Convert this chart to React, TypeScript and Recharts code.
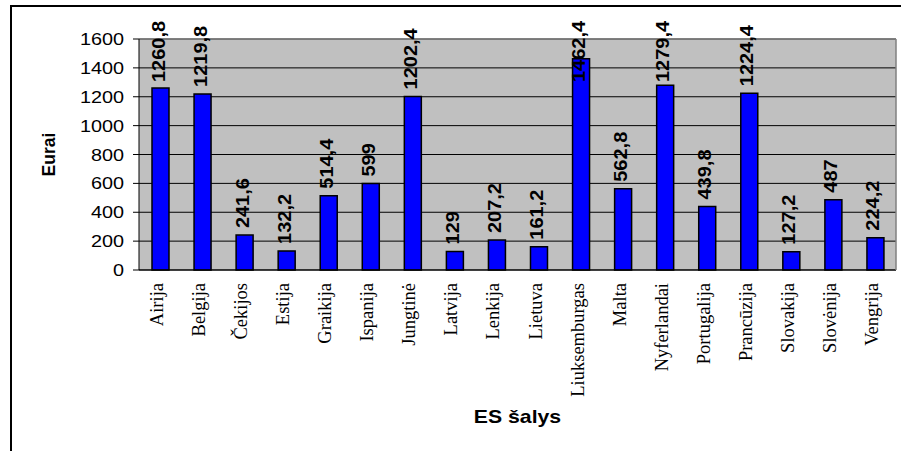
import React from "react";
import {
  BarChart,
  Bar,
  XAxis,
  YAxis,
  CartesianGrid,
  LabelList,
  ReferenceLine,
} from "recharts";

const categories = [
  "Airija",
  "Belgija",
  "Čekijos",
  "Estija",
  "Graikija",
  "Ispanija",
  "Jungtinė",
  "Latvija",
  "Lenkija",
  "Lietuva",
  "Liuksemburgas",
  "Malta",
  "Nyferlandai",
  "Portugalija",
  "Prancūzija",
  "Slovakija",
  "Slovėnija",
  "Vengrija",
];

const values = [
  1260.8, 1219.8, 241.6, 132.2, 514.4, 599, 1202.4, 129, 207.2, 161.2, 1462.4,
  562.8, 1279.4, 439.8, 1224.4, 127.2, 487, 224.2,
];

const yTicks = [0, 200, 400, 600, 800, 1000, 1200, 1400, 1600];
const boundaryTicks = categories.map((_, i) => i).concat([categories.length]);

const data = categories.map((name, i) => ({ name, value: values[i] }));

const fmt = (v: number) => String(v).replace(".", ",");

const SANS = "'Liberation Sans', Arial, sans-serif";
const SERIF = "'Liberation Serif', 'Times New Roman', serif";

const CHART_TOP = 39;
const LABEL_MIN_BASE = CHART_TOP + 43; // keep labels inside the picture

const YTick = (props: any) => {
  const { x, y, payload } = props;
  return (
    <text
      transform={`translate(${x},${y}) scale(1.24,1)`}
      textAnchor="end"
      dy={6}
      fontFamily={SANS}
      fontSize={16}
      fill="#000"
    >
      {payload.value}
    </text>
  );
};

const XTick = (props: any) => {
  const { x, y, payload } = props;
  return (
    <text
      transform={`translate(${x + 3},${y}) rotate(-90)`}
      textAnchor="end"
      fontFamily={SERIF}
      fontSize={18.5}
      fill="#000"
    >
      {payload.value}
    </text>
  );
};

const EmptyTick = () => <g />;

const BarLabel = (props: any) => {
  const { x, y, width, value } = props;
  const cx = Number(x) + Number(width) / 2;
  const base = Math.max(Number(y) - 7, LABEL_MIN_BASE);
  return (
    <text
      transform={`translate(${cx + 4},${base}) rotate(-90) scale(1,0.93)`}
      textAnchor="start"
      fontFamily={SANS}
      fontWeight="bold"
      fontSize={20}
      fill="#000"
    >
      {fmt(value)}
    </text>
  );
};

export default function App() {
  return (
    <div
      style={{
        position: "absolute",
        left: 0,
        top: 0,
        width: 901,
        height: 451,
        overflow: "hidden",
        background: "#fff",
      }}
    >
      <div
        style={{
          position: "absolute",
          left: 10,
          top: 5,
          width: 900,
          height: 470,
          borderTop: "2px solid #000",
          borderLeft: "2px solid #000",
          boxSizing: "border-box",
        }}
      />
      <div style={{ position: "absolute", left: 0, top: 0 }}>
        <BarChart
          width={901}
          height={451}
          data={data}
          margin={{ top: CHART_TOP, right: 0, left: 0, bottom: 0 }}
          barSize={17}
        >
          <CartesianGrid
            vertical={false}
            stroke="#000"
            fill="#c0c0c0"
            fillOpacity={1}
          />
          <ReferenceLine y={1600} stroke="#808080" strokeWidth={1.5} />
          <XAxis
            dataKey="name"
            height={181}
            interval={0}
            tickLine={false}
            tickSize={0}
            tickMargin={13}
            axisLine={{ stroke: "#000" }}
            tick={<XTick />}
            label={{
              content: (p: any) => {
                const vb = p.viewBox || {};
                const cx = vb.x + vb.width / 2;
                const yy = vb.y + 153;
                return (
                  <text
                    transform={`translate(${cx},${yy}) scale(1.18,1)`}
                    textAnchor="middle"
                    fontFamily={SANS}
                    fontWeight="bold"
                    fontSize={18}
                    fill="#000"
                  >
                    ES šalys
                  </text>
                );
              },
            }}
          />
          <XAxis
            xAxisId="tk"
            type="number"
            domain={[0, categories.length]}
            ticks={boundaryTicks}
            height={0}
            axisLine={false}
            tickLine={{ stroke: "#000" }}
            tickSize={6}
            tick={<EmptyTick />}
          />
          <YAxis
            width={139}
            domain={[0, 1600]}
            ticks={yTicks}
            interval={0}
            tickSize={6}
            tickMargin={9}
            axisLine={{ stroke: "#000" }}
            tickLine={{ stroke: "#000" }}
            tick={<YTick />}
            label={{
              content: (p: any) => {
                const vb = p.viewBox || {};
                const cy = vb.y + vb.height / 2;
                return (
                  <text
                    transform={`translate(55,${cy}) rotate(-90)`}
                    textAnchor="middle"
                    fontFamily={SANS}
                    fontWeight="bold"
                    fontSize={17.5}
                    fill="#000"
                  >
                    Eurai
                  </text>
                );
              },
            }}
          />
          <YAxis
            yAxisId="r"
            orientation="right"
            width={5}
            domain={[0, 1600]}
            tick={false}
            tickLine={false}
            axisLine={{ stroke: "#808080", strokeWidth: 1.5 }}
          />
          <Bar
            dataKey="value"
            fill="#0000ff"
            stroke="#000"
            strokeWidth={1.5}
            isAnimationActive={false}
          >
            <LabelList dataKey="value" content={<BarLabel />} />
          </Bar>
        </BarChart>
      </div>
    </div>
  );
}
